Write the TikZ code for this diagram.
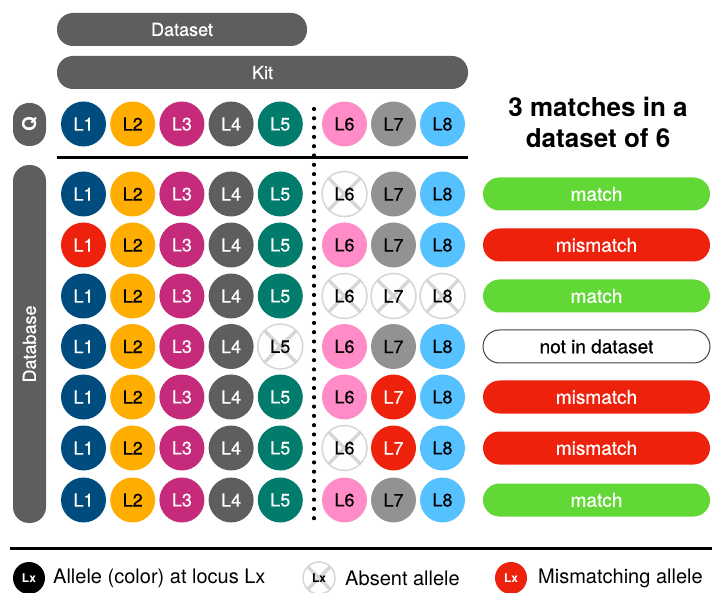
\documentclass[tikz,border=0pt]{standalone}
\usepackage{fontspec}
\setmainfont{TeX Gyre Heros}
\newfontfamily\medfont{TeX Gyre Heros}[FakeBold=0.6]
\definecolor{c1}{HTML}{004C7E}
\definecolor{c2}{HTML}{FFAD00}
\definecolor{c3}{HTML}{C62A7A}
\definecolor{c4}{HTML}{5E5E5E}
\definecolor{c5}{HTML}{007B6C}
\definecolor{c6}{HTML}{FF8CC6}
\definecolor{c7}{HTML}{929292}
\definecolor{c8}{HTML}{56C1FF}
\colorlet{t1}{white}\colorlet{t2}{black}\colorlet{t3}{white}\colorlet{t4}{white}
\colorlet{t5}{white}\colorlet{t6}{black}\colorlet{t7}{black}\colorlet{t8}{black}
\definecolor{misred}{HTML}{EE220C}
\definecolor{matchgreen}{HTML}{61D836}
\definecolor{pillgray}{HTML}{5E5E5E}
\definecolor{absgray}{HTML}{D6D6D6}
\tikzset{
  allele/.style={circle, minimum size=45pt, inner sep=0pt, font=\medfont\fontsize{18}{18}\selectfont},
  stn/.style={fill=c\c, text=t\c},
  str/.style={fill=misred, text=white},
  sta/.style={fill=white, draw=absgray, line width=1.5pt, text=black,
    path picture={\draw[absgray, line width=3.5pt]
      (path picture bounding box.north west) -- (path picture bounding box.south east)
      (path picture bounding box.north east) -- (path picture bounding box.south west);}},
  bar/.style={fill=pillgray, text=white, rounded corners=16pt, inner sep=0pt,
    font=\medfont\fontsize{18}{18}\selectfont},
  result/.style={rounded corners=16.5pt, inner sep=0pt, minimum width=227pt,
    minimum height=33pt, font=\medfont\fontsize{19}{19}\selectfont},
  resmatch/.style={result, fill=matchgreen, text=white},
  resmis/.style={result, fill=misred, text=white},
  resnot/.style={result, fill=white, draw=black!75, line width=1pt, text=black},
  rule/.style={line width=3pt, black},
  dotline/.style={line width=4.2pt, dash pattern=on 0pt off 9.3pt, line cap=round},
  legtext/.style={anchor=west, inner sep=0pt, font=\fontsize{20}{20}\selectfont},
  legc/.style={circle, minimum size=32pt, inner sep=0pt, font=\bfseries\fontsize{12}{12}\selectfont},
}
\begin{document}
\begin{tikzpicture}[x=1pt,y=-1pt]
\useasboundingbox (0,0) rectangle (712,593);
% top bars
\node[bar, minimum width=250pt, minimum height=33pt] (dataset) at (182,29.5) {Dataset};
\node[bar, minimum width=411pt, minimum height=33pt] (kit) at (262.5,72.5) {Kit};
% side pills
\node[bar, rotate=90, minimum width=43pt, minimum height=33pt, font=\bfseries\fontsize{19}{19}\selectfont] (qpill) at (29.5,124.5) {Q};
\node[bar, rotate=90, minimum width=358pt, minimum height=33pt] (dbpill) at (29.5,344) {Database};
% title
\node[align=center, font=\bfseries\fontsize{26}{31}\selectfont, inner sep=0pt] (title) at (598,122.5) {3 matches in a\\dataset of 6};
% query row
\foreach \s [count=\c] in {stn,stn,stn,stn,stn,stn,stn,stn} {
  \pgfmathsetmacro\xx{{83.5,132.7,181.9,231.1,280.3,344.5,393.5,442.5}[\c-1]}
  \node[allele, \s] (q-\c) at (\xx,124) {L\c};
}
% database rows
\foreach \r/\y/\st/\rs/\rt in {
  1/194/{stn,stn,stn,stn,stn,sta,stn,stn}/resmatch/match,
  2/245/{str,stn,stn,stn,stn,stn,stn,stn}/resmis/mismatch,
  3/296/{stn,stn,stn,stn,stn,sta,sta,sta}/resmatch/match,
  4/346.5/{stn,stn,stn,stn,sta,stn,stn,stn}/resnot/not in dataset,
  5/397/{stn,stn,stn,stn,stn,stn,str,stn}/resmis/mismatch,
  6/448/{stn,stn,stn,stn,stn,sta,str,stn}/resmis/mismatch,
  7/500/{stn,stn,stn,stn,stn,stn,stn,stn}/resmatch/match} {
  \foreach \s [count=\c] in \st {
    \pgfmathsetmacro\xx{{83.5,132.7,181.9,231.1,280.3,344.5,393.5,442.5}[\c-1]}
    \node[allele, \s] (r\r-\c) at (\xx,\y) {L\c};
  }
  \node[\rs] (res\r) at (596.5,\y) {\rt};
}
% rules
\coordinate (hl) at (57,158);
\coordinate (hr) at (468,158);
\draw[rule] (hl) -- (hr);
\coordinate (dt) at (314,109);
\coordinate (db) at (314,527);
\draw[dotline] (dt) -- (db);
\coordinate (bl) at (10,548);
\coordinate (br) at (712,548);
\draw[rule] (bl) -- (br);
% legend
\node[legc, fill=black, text=white] (leg1) at (29,578) {Lx};
\node[legtext] (leg1t) at (53,578) {Allele (color) at locus Lx};
\node[legc, sta, text=black] (leg2) at (319,578) {Lx};
\node[legtext] (leg2t) at (345,578) {Absent allele};
\node[legc, fill=misred, text=white] (leg3) at (511,578) {Lx};
\node[legtext] (leg3t) at (538,578) {Mismatching allele};
\end{tikzpicture}
\end{document}
